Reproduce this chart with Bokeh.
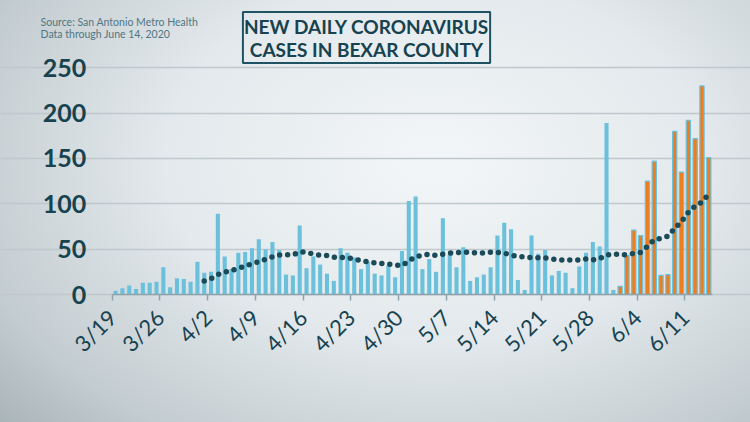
import numpy as np
import pandas as pd
from math import pi
from bokeh.plotting import figure
from bokeh.models import (ColumnDataSource, FixedTicker, Range1d, Label,
                          LinearAxis, Grid)
from bokeh.embed import file_html
from bokeh.resources import INLINE

# ---------------- data ----------------
dates = pd.date_range("2020-03-19", "2020-06-14", freq="D")
date_labels = [f"{d.month}/{d.day}" for d in dates]

new_cases = [
    4, 7, 10, 6, 13, 13, 14, 30, 8, 18, 17, 14, 36, 24,
    25, 89, 42, 28, 46, 47, 51, 61, 50, 58, 49, 22, 21, 76,
    29, 42, 33, 23, 15, 51, 46, 41, 28, 36, 23, 21, 32, 19,
    48, 103, 108, 28, 39, 25, 84, 44, 30, 52, 15, 19, 22, 30,
    65, 79, 72, 16, 5, 65, 45, 49, 21, 26, 24, 7, 31, 46,
    58, 53, 189, 5, 9, 43, 71, 65, 125, 147, 21, 22, 180, 135,
    192, 172, 230, 151,
]

avg_14day = [None] * 13 + [
    15, 17.5, 22, 24.5, 26.5, 29, 31, 34, 36, 39, 41.5, 43.5, 44, 43.6,
    47, 46.7, 44.5, 43.4, 43, 41, 41, 40.5, 39, 37.5, 36, 35, 34.3, 33.7,
    32.5, 32, 37, 41.5, 43.3, 44.5, 43, 44.5, 45.6, 46, 47, 46, 46, 45.6,
    46.5, 46.5, 45.6, 43.5, 42, 41.2, 40.8, 40.5, 40.3, 39.2, 38.3, 38,
    38, 38.2, 39.3, 38.2, 39.5, 43.5, 44.8, 44, 43.8, 45.3, 46.5, 53,
    60.5, 62, 64.2, 73, 80.5, 90.5, 97.5, 102, 110.7,
]

highlight_from = "6/1"
tick_labels = ["3/19", "3/26", "4/2", "4/9", "4/16", "4/23", "4/30",
               "5/7", "5/14", "5/21", "5/28", "6/4", "6/11"]
y_ticks = [0, 50, 100, 150, 200, 250]

title_lines = ["NEW DAILY CORONAVIRUS", "CASES IN BEXAR COUNTY"]
source_lines = ["Source: San Antonio Metro Health", "Data through June 14, 2020"]

# ---------------- build ----------------
n = len(dates)
xpos = np.arange(n) + 0.5
h = date_labels.index(highlight_from)
avg = np.array([np.nan if v is None else v for v in avg_14day], dtype=float)

src_blue = ColumnDataSource(dict(x=xpos[:h], top=new_cases[:h]))
src_orange = ColumnDataSource(dict(x=xpos[h:], top=new_cases[h:]))
src_avg = ColumnDataSource(dict(x=xpos, y=avg))

TEAL = "#17424f"
BLUE = "#6bc1dc"
ORANGE = "#ee7d1f"

# the frame fills the whole canvas; axes are pinned inside it
PX_DAY = 600 / n          # px per day, axis from x=111.7 to 711.7
PX_VAL = 226.7 / 250      # px per case, zero line at y=294
x0 = -111.7 / PX_DAY
x1 = x0 + 750 / PX_DAY
y0 = -(422 - 294) / PX_VAL
y1 = y0 + 422 / PX_VAL

p = figure(width=750, height=422, output_backend="svg", toolbar_location=None,
           x_range=Range1d(x0, x1), y_range=Range1d(y0, y1),
           x_axis_type=None, y_axis_type=None,
           min_border_left=0, min_border_right=0,
           min_border_top=0, min_border_bottom=0)
p.background_fill_alpha = 0
p.border_fill_alpha = 0
p.outline_line_color = None
p.styles = {"background-image":
            "radial-gradient(ellipse 80% 95% at 58% 38%, #f3f6f8 0%, #e3e9ec 45%, #c3ccd0 80%, #a6b1b6 100%)"}

grid = Grid(dimension=1, ticker=FixedTicker(ticks=y_ticks), bounds=(0, n),
            grid_line_color="#bfc8cc", grid_line_width=1.5)
p.add_layout(grid)

p.vbar(x="x", top="top", width=0.6, source=src_blue,
       fill_color=BLUE, line_color=None)
p.vbar(x="x", top="top", width=0.62, source=src_orange,
       fill_color=ORANGE, line_color=BLUE, line_width=1.2)
p.line(x="x", y="y", source=src_avg, line_color="#1b4a58", line_width=5.5,
       line_dash="0 8", line_cap="round")

yaxis = LinearAxis(ticker=FixedTicker(ticks=y_ticks), fixed_location=0,
                   bounds=(0, 250))
yaxis.axis_line_color = None
yaxis.major_tick_line_color = None
yaxis.minor_tick_line_color = None
yaxis.major_label_standoff = 20
yaxis.major_label_text_font = "Lato"
yaxis.major_label_text_font_style = "bold"
yaxis.major_label_text_font_size = "25px"
yaxis.major_label_text_color = TEAL
p.add_layout(yaxis, "left")

tick_idx = [date_labels.index(t) for t in tick_labels]
xaxis = LinearAxis(ticker=FixedTicker(ticks=tick_idx), fixed_location=0,
                   bounds=(0, n))
xaxis.major_label_overrides = {i: t for i, t in zip(tick_idx, tick_labels)}
xaxis.axis_line_color = "#8ea3ab"
xaxis.axis_line_width = 1.5
xaxis.major_tick_line_color = "#8ea3ab"
xaxis.major_tick_line_width = 1.5
xaxis.major_tick_in = 0
xaxis.major_tick_out = 6
xaxis.minor_tick_line_color = None
xaxis.major_label_orientation = pi / 4
xaxis.major_label_standoff = 13
xaxis.major_label_text_font = "Lato"
xaxis.major_label_text_font_size = "22px"
xaxis.major_label_text_color = TEAL
p.add_layout(xaxis, "below")

# title box (first line carries the frame) and second line
t1 = Label(x=37.3, y=283.4, text=title_lines[0], text_align="center",
           text_baseline="middle", text_font="Lato", text_font_style="bold",
           text_font_size="19px", text_color=TEAL,
           border_line_color="#1f5262", border_line_width=2)
try:
    t1.padding = dict(left=1, right=1, top=3, bottom=25)
except Exception:
    t1.padding = (3, 1, 25, 1)
p.add_layout(t1)
p.add_layout(Label(x=37.3, y=270, text=title_lines[1], text_align="center",
                   text_baseline="middle", text_font="Lato",
                   text_font_style="bold", text_font_size="19px",
                   text_color=TEAL))
for txt, yv in zip(source_lines, [300.7, 287.4]):
    p.add_layout(Label(x=-10.5, y=yv, text=txt, text_align="left",
                       text_baseline="middle", text_font="Lato",
                       text_font_size="10.5px", text_color="#4f7683"))

open("out.html", "w").write(file_html(p, INLINE))
